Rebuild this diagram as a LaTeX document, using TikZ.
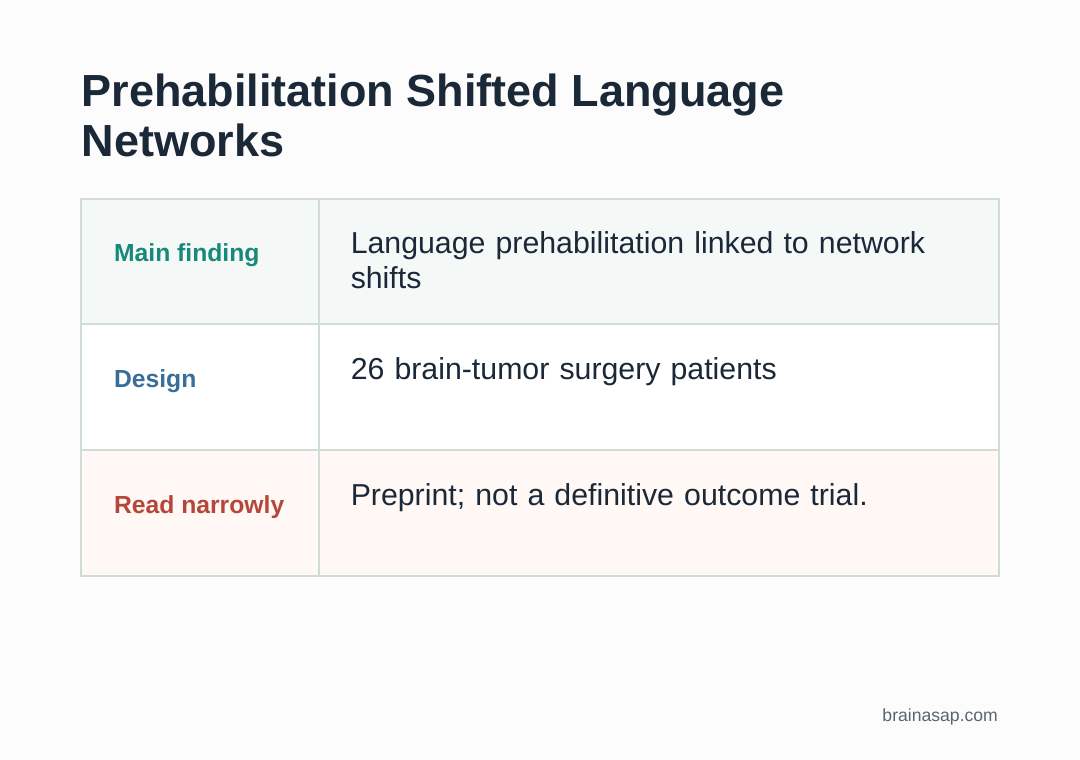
\documentclass[tikz,border=0pt]{standalone}
\usepackage{fontspec}
\setmainfont{Liberation Sans}
\usetikzlibrary{positioning}
\definecolor{bgpage}{HTML}{FCFCFC}
\definecolor{ink}{HTML}{1B2838}
\definecolor{rule}{HTML}{CFDCD8}
\definecolor{rowa}{HTML}{F4F8F7}
\definecolor{rowc}{HTML}{FFF8F5}
\definecolor{teal}{HTML}{17897A}
\definecolor{steel}{HTML}{3A6E99}
\definecolor{brick}{HTML}{B5473A}
\definecolor{foot}{HTML}{5A6570}
\tikzset{
  label/.style={anchor=west, font=\fontsize{24.7}{29}\selectfont\bfseries},
  body/.style={anchor=north west, align=left, text width=640pt, inner sep=0pt,
    font=\fontsize{30.3}{35}\selectfont, text=ink},
}
\begin{document}
\begin{tikzpicture}[x=1pt,y=-1pt, line width=1.5pt]

\fill[bgpage] (0,0) rectangle (1080,760);
\useasboundingbox (0,0) rectangle (1080,760);

% title
\node[anchor=north west, inner sep=0pt, align=left, text=ink,
  font=\fontsize{45}{50}\selectfont\bfseries] (title) at (81,73)
  {Prehabilitation Shifted Language\\Networks};

% rows
\fill[rowa] (81,199) rectangle (999,324);
\fill[white] (81,324) rectangle (999,450);
\fill[rowc] (81,450) rectangle (999,576);
\draw[rule] (81,199) rectangle (999,576);
\draw[rule] (81,324) -- (999,324);
\draw[rule] (81,450) -- (999,450);
\draw[rule] (319,199) -- (319,576);

% labels
\node[label, text=teal] (main) at (110,255) {Main finding};
\node[label, text=steel] (design) at (110,381) {Design};
\node[label, text=brick] (read) at (110,507) {Read narrowly};

% body
\node[body] (mainb) at (350,231) {Language prehabilitation linked to network\\shifts};
\node[body] (designb) at (350,357) {26 brain-tumor surgery patients};
\node[body] (readb) at (350,483) {Preprint; not a definitive outcome trial.};

% footer
\node[anchor=east, text=foot, font=\fontsize{17.6}{20}\selectfont] (site) at (1002,717) {brainasap.com};

\end{tikzpicture}
\end{document}
